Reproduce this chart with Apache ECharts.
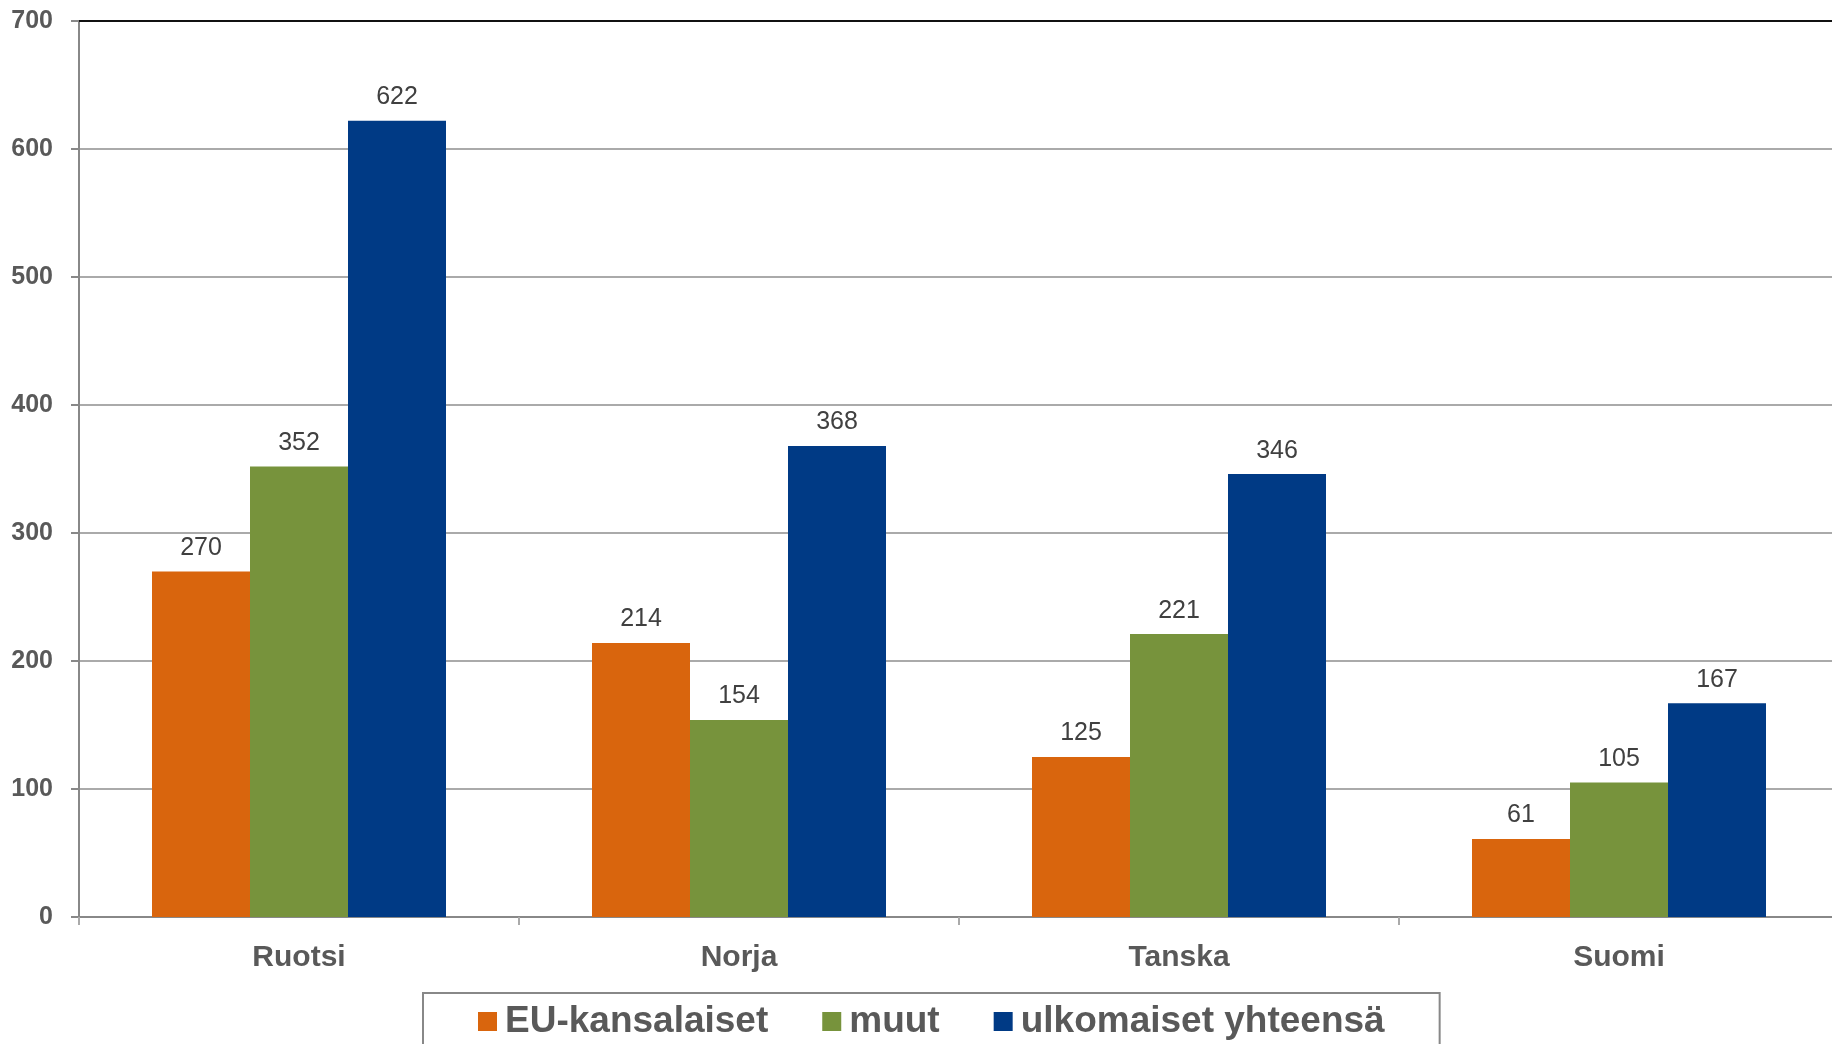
<!DOCTYPE html>
<html>
<head>
<meta charset="utf-8">
<script src="https://cdn.jsdelivr.net/npm/echarts@6/dist/echarts.min.js"></script>
<style>
  html, body { margin: 0; padding: 0; background: #fff; }
  #chart { width: 1832px; height: 1044px; }
</style>
</head>
<body>
<div id="chart"></div>
<script>
// maat ja sarjat
const categories = ['Ruotsi', 'Norja', 'Tanska', 'Suomi']
const seriesNames = ['EU-kansalaiset', 'muut', 'ulkomaiset yhteensä']
const euValues = [270, 214, 125, 61]
const muutValues = [352, 154, 221, 105]
const yhteensaValues = [622, 368, 346, 167]
const yTicks = [0, 100, 200, 300, 400, 500, 600, 700]

const colors = ['#D9650D', '#77933C', '#003A85']
const font = "'Liberation Sans', Arial, sans-serif"

const chart = echarts.init(document.getElementById('chart'))

// yhteinen pylväsasetus
function barSeries(name, data, color) {
  return {
    name: name,
    type: 'bar',
    data: data,
    barWidth: 98,
    barGap: '0%',
    itemStyle: { color: color },
    label: {
      show: true,
      position: 'top',
      distance: 11,
      color: '#404040',
      fontSize: 25,
      fontFamily: font
    }
  }
}

const option = {
  animation: false,
  backgroundColor: '#fff',
  grid: {
    left: 79,
    top: 21,
    width: 1760,
    bottom: 127,
    outerBoundsMode: 'none'
  },
  legend: {
    data: seriesNames,
    left: 423,
    top: 993,
    padding: [10, 55, 40, 55],
    borderColor: '#888',
    borderWidth: 2,
    itemWidth: 19,
    itemHeight: 19,
    itemGap: 54,
    icon: 'rect',
    textStyle: {
      color: '#595959',
      fontSize: 37,
      fontWeight: 'bold',
      fontFamily: font,
      padding: [0, 0, 0, 3]
    }
  },
  xAxis: [
    {
      type: 'category',
      data: categories,
      axisLine: { lineStyle: { color: '#888', width: 2 } },
      axisTick: { show: true, length: 8, lineStyle: { color: '#aaa', width: 2 } },
      axisLabel: {
        color: '#595959',
        fontSize: 30,
        fontWeight: 'bold',
        fontFamily: font,
        margin: 26
      }
    },
    {
      // ylälaidan musta reunaviiva
      type: 'category',
      data: categories,
      position: 'top',
      axisLine: { lineStyle: { color: '#111', width: 2 } },
      axisTick: { show: false },
      axisLabel: { show: false }
    }
  ],
  yAxis: {
    type: 'value',
    min: yTicks[0],
    max: yTicks[yTicks.length - 1],
    interval: 100,
    axisLine: { show: true, lineStyle: { color: '#888', width: 2 } },
    axisTick: { show: true, length: 8, lineStyle: { color: '#888', width: 2 } },
    axisLabel: {
      color: '#595959',
      fontSize: 25,
      fontWeight: 'bold',
      fontFamily: font,
      margin: 26
    },
    splitLine: { lineStyle: { color: '#aaa', width: 2 } }
  },
  series: [
    barSeries(seriesNames[0], euValues, colors[0]),
    barSeries(seriesNames[1], muutValues, colors[1]),
    barSeries(seriesNames[2], yhteensaValues, colors[2])
  ]
}

chart.setOption(option)
</script>
</body>
</html>
